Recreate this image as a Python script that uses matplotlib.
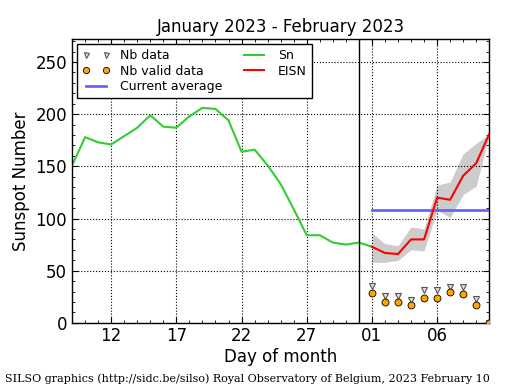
import matplotlib
matplotlib.use("Agg")
import matplotlib.pyplot as plt
import matplotlib.ticker as ticker

# day index: January days as-is, February days as 31 + day
sn_days = list(range(9, 33))
sn_values = [151, 178, 173, 171, 179, 187, 199, 188, 187, 198, 206, 205,
             194, 164, 166, 151, 133, 109, 84, 84, 77, 75, 77, 73]

eisn_days = list(range(32, 42))
eisn_values = [73, 67, 66, 80, 80, 120, 118, 141, 153, 181]
eisn_upper = [86, 76, 74, 92, 90, 132, 135, 162, 172, 181]
eisn_lower = [58, 58, 60, 70, 69, 108, 101, 123, 131, 181]

nb_data = [35, 26, 26, 22, 32, 32, 34, 34, 23, 0]
nb_valid = [29, 20, 20, 17, 24, 24, 30, 28, 17, 0]

current_average = 108
month_end = 31

tick_days = [12, 17, 22, 27, 32, 37]
tick_labels = ["12", "17", "22", "27", "01", "06"]

fig = plt.figure(figsize=(5.15, 3.9), dpi=100, facecolor="white")
ax = fig.add_axes([0.14, 0.172, 0.81, 0.728])

ax.fill_between(eisn_days, eisn_lower, eisn_upper, color="#cccccc", lw=0, zorder=1)
h_nb, = ax.plot(eisn_days, nb_data, "v", color="#aaaaaa", mec="#555555",
                mfc="#dddddd", ms=4, mew=0.8, ls="none", zorder=4)
h_valid, = ax.plot(eisn_days, nb_valid, "o", mfc="orange", mec="black",
                   ms=5, mew=0.6, ls="none", zorder=5)
h_avg, = ax.plot([eisn_days[0], eisn_days[-1]], [current_average] * 2,
                 color="#6666ff", lw=2, zorder=3)
h_sn, = ax.plot(sn_days, sn_values, color="#33cc33", lw=1.5, zorder=2)
h_eisn, = ax.plot(eisn_days, eisn_values, color="red", lw=1.5, zorder=3)
ax.axvline(month_end, color="black", lw=1, zorder=3)

ax.set_xlim(9, 41)
ax.set_ylim(0, 272)
ax.set_xticks(tick_days)
ax.set_xticklabels(tick_labels)
ax.xaxis.set_minor_locator(ticker.MultipleLocator(1))
ax.yaxis.set_major_locator(ticker.MultipleLocator(50))
ax.yaxis.set_minor_locator(ticker.MultipleLocator(10))
ax.tick_params(which="both", direction="in", top=True, right=True, labelsize=12)
ax.tick_params(which="major", length=4)
ax.tick_params(which="minor", length=2)
ax.tick_params(axis="x", pad=3)
ax.grid(True, which="major", linestyle=":", color="black", lw=0.8)
for s in ax.spines.values():
    s.set_linewidth(1)

ax.set_title("January 2023 - February 2023", fontsize=12, pad=5)
ax.set_xlabel("Day of month", fontsize=12, labelpad=2)
ax.set_ylabel("Sunspot Number", fontsize=12)

leg = ax.legend([h_nb, h_valid, h_avg, h_sn, h_eisn],
                ["Nb data", "Nb valid data", "Current average", "Sn", "EISN"],
                ncol=2, numpoints=2, loc="upper left", fontsize=9,
                fancybox=False, framealpha=1, edgecolor="black",
                borderaxespad=0.4, handlelength=2.2, handletextpad=0.8,
                columnspacing=1.5, labelspacing=0.2, markerscale=0.9)
leg.get_frame().set_linewidth(1)

fig.text(0.01, 0.02, "SILSO graphics (http://sidc.be/silso) Royal Observatory of Belgium, 2023 February 10",
         fontsize=8, family="DejaVu Serif")

fig.savefig("out.png", dpi=100, facecolor="white")
